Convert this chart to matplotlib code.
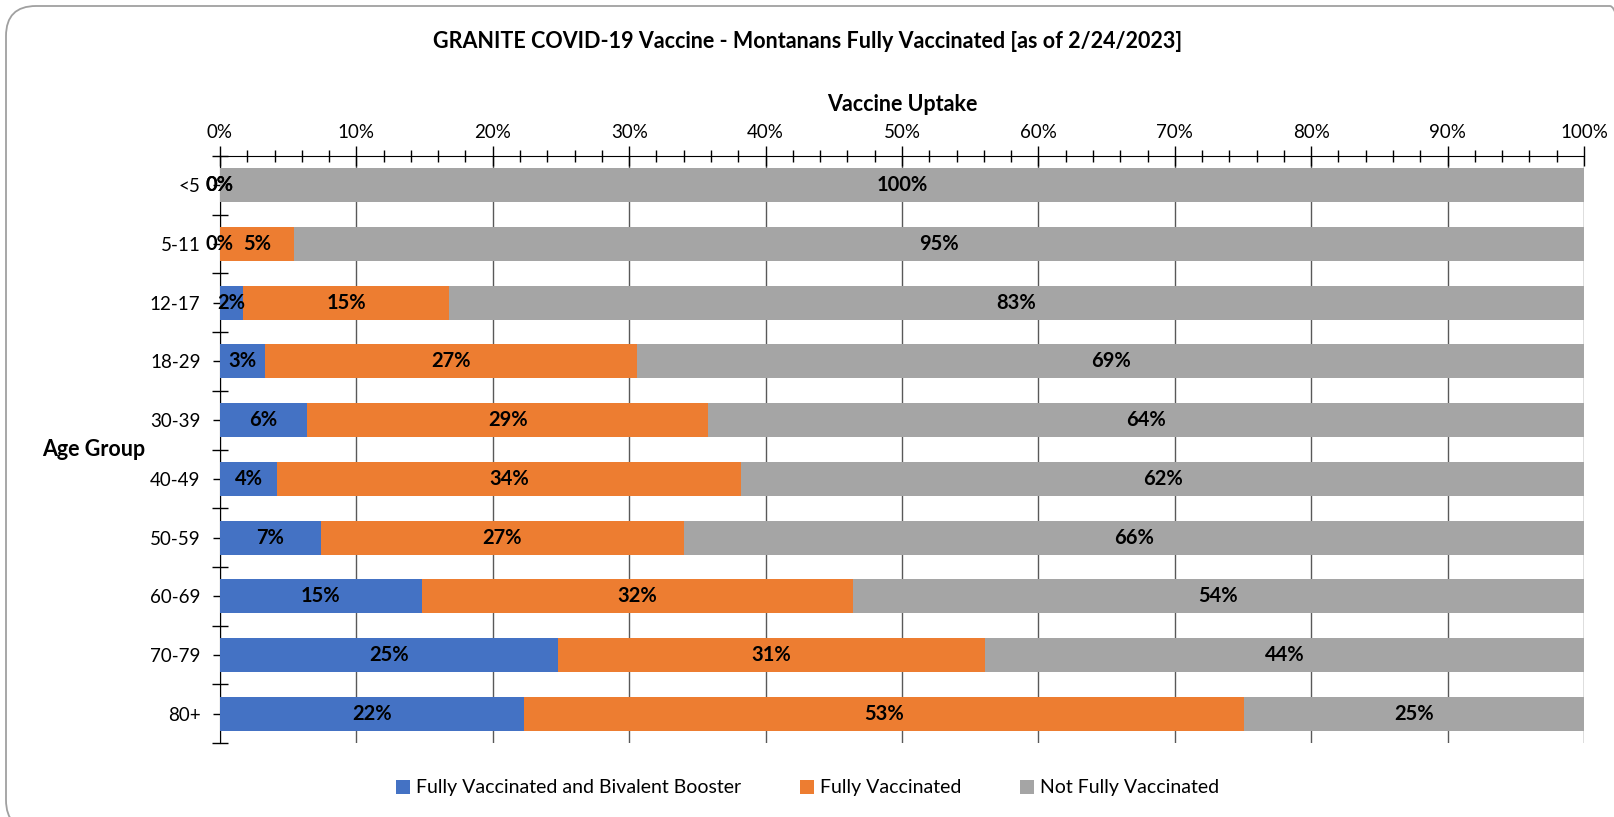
import matplotlib
matplotlib.use("Agg")
import matplotlib.pyplot as plt
import numpy as np
from matplotlib.patches import FancyBboxPatch
from matplotlib.ticker import MultipleLocator, PercentFormatter, FixedLocator

plt.rcParams['font.family'] = ['Lato', 'DejaVu Sans']

age_groups = ["<5", "5-11", "12-17", "18-29", "30-39", "40-49", "50-59", "60-69", "70-79", "80+"]
booster = [0.0, 0.0, 1.7, 3.3, 6.4, 4.2, 7.4, 14.8, 24.8, 22.3]
fully = [0.0, 5.4, 15.1, 27.3, 29.4, 34.0, 26.6, 31.6, 31.3, 52.8]
not_fully = [100.0, 94.6, 83.2, 69.4, 64.2, 61.8, 66.0, 53.6, 43.9, 24.9]
series_names = ["Fully Vaccinated and Bivalent Booster", "Fully Vaccinated", "Not Fully Vaccinated"]
colors = ["#4472C4", "#ED7D31", "#A5A5A5"]

fig = plt.figure(figsize=(16.15, 8.17), dpi=100)
ax = fig.add_axes([0.1362, 0.0906, 0.9808 - 0.1362, 0.809 - 0.0906])

y = np.arange(len(age_groups))
left = np.zeros(len(age_groups))
handles = []
for vals, name, c in zip([booster, fully, not_fully], series_names, colors):
    vals = np.array(vals)
    h = ax.barh(y, vals, left=left, height=0.58, color=c, label=name, zorder=3)
    handles.append(h)
    for yi, (l, v) in enumerate(zip(left, vals)):
        ax.text(l + v / 2, yi, f"{v:.0f}%", ha="center", va="center",
                fontsize=14.5, fontweight="bold", color="black", zorder=5)
    left = left + vals

ax.set_xlim(0, 100)
ax.set_ylim(len(age_groups) - 0.5, -0.5)
ax.xaxis.set_ticks_position("top")
ax.xaxis.set_label_position("top")
ax.xaxis.set_major_locator(MultipleLocator(10))
ax.xaxis.set_minor_locator(MultipleLocator(2))
ax.xaxis.set_major_formatter(PercentFormatter(decimals=0))
ax.tick_params(axis="x", which="major", direction="inout", length=14, width=1, labelsize=13.5, pad=4)
ax.tick_params(axis="x", which="minor", direction="inout", length=9, width=1)
ax.set_yticks(y)
ax.set_yticklabels(age_groups)
ax.yaxis.set_minor_locator(FixedLocator(np.arange(-0.5, len(age_groups), 1)))
ax.tick_params(axis="y", which="major", direction="out", length=5, width=1, labelsize=13.5, pad=9)
ax.tick_params(axis="y", which="minor", direction="inout", length=12, width=1)
ax.grid(axis="x", which="major", color="#595959", lw=1, zorder=0)
for s in ["right", "bottom"]:
    ax.spines[s].set_visible(False)
ax.spines["top"].set_color("black")
ax.spines["left"].set_color("black")
ax.set_xlabel("Vaccine Uptake", fontsize=15.5, fontweight="bold", labelpad=9)
ax.set_ylabel("Age Group", fontsize=15.5, fontweight="bold", rotation=0, ha="right", va="center")
ax.yaxis.set_label_coords(-0.055, 0.5)

fig.text(0.5, 1 - 41 / 817, "GRANITE COVID-19 Vaccine - Montanans Fully Vaccinated [as of 2/24/2023]",
         ha="center", va="center", fontsize=15.5, fontweight="bold")

fig.legend(handles=handles, labels=series_names, loc="center", bbox_to_anchor=(0.5, 1 - 788 / 817),
           ncol=3, frameon=False, fontsize=14, handlelength=0.75, handleheight=0.75,
           handletextpad=0.3, columnspacing=3.0)

border = FancyBboxPatch((0.06, -0.13), 16.34, 8.24, boxstyle="round,pad=0,rounding_size=0.3",
                        transform=fig.dpi_scale_trans, fill=False, edgecolor="#A0A0A0", lw=1.3)
fig.patches.append(border)

fig.savefig("out.png", dpi=100)
